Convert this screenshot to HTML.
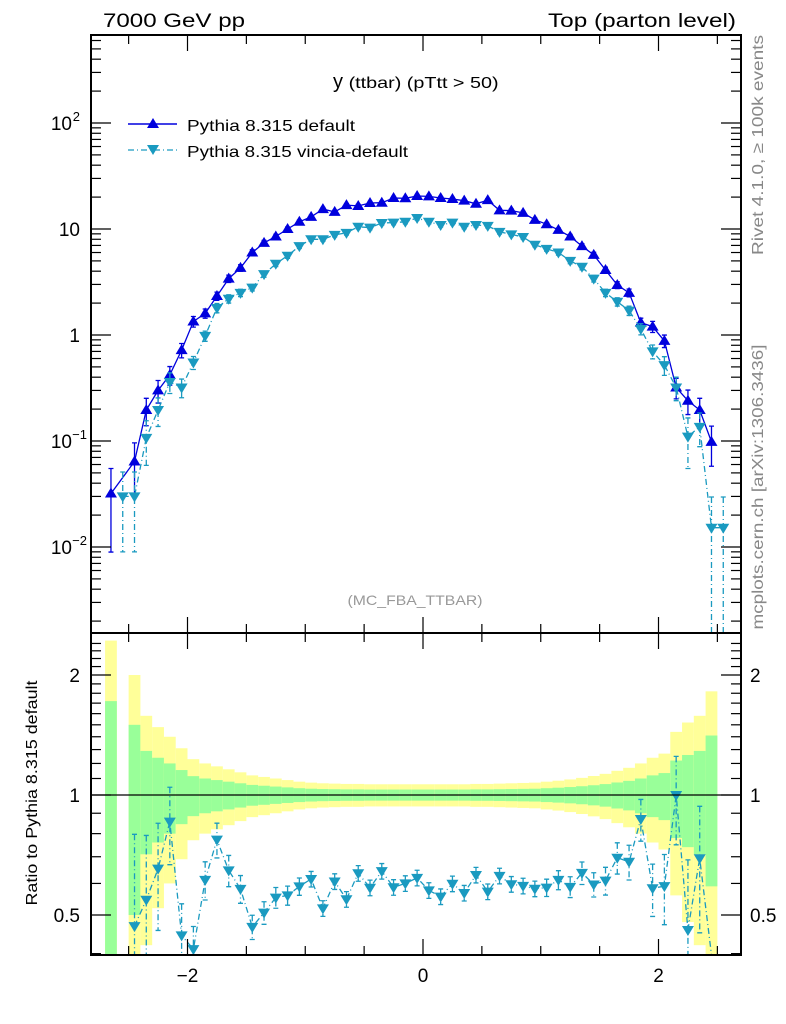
<!DOCTYPE html>
<html><head><meta charset="utf-8"><style>
html,body{margin:0;padding:0;background:#fff;overflow:hidden;width:786px;height:1024px;}
svg{display:block;position:absolute;left:0;top:0;font-family:"Liberation Sans",sans-serif;}
</style></head><body>
<svg id="chart" width="786" height="1024" viewBox="0 0 786 1024" xmlns="http://www.w3.org/2000/svg" overflow="hidden">
<defs>
<clipPath id="clipMain"><rect x="91" y="35" width="650" height="598"/></clipPath>
<clipPath id="clipRatio"><rect x="91" y="633" width="650" height="322"/></clipPath>
</defs>
<g id="bands" clip-path="url(#clipRatio)"></g>
<g id="main"></g>
<g id="ratio"></g>
<g id="axes"></g>
<text x="103" y="27" font-size="19" textLength="142" lengthAdjust="spacingAndGlyphs">7000 GeV pp</text>
<text x="736" y="27" font-size="19" text-anchor="end" textLength="188" lengthAdjust="spacingAndGlyphs">Top (parton level)</text>
<text x="333" y="88" font-size="20">y <tspan font-size="16" textLength="150" lengthAdjust="spacingAndGlyphs">(ttbar) (pTtt &gt; 50)</tspan></text>
<g>
<line x1="128" y1="124" x2="177" y2="124" stroke="#0000dd" stroke-width="1.5"/>
<path d="M153,118 L159,128 L147,128 Z" fill="#0000dd"/>
<text x="187" y="131" font-size="16" textLength="168" lengthAdjust="spacingAndGlyphs">Pythia 8.315 default</text>
<line x1="128" y1="150" x2="177" y2="150" stroke="#1a9ac0" stroke-width="1.3" stroke-dasharray="6,3,1,3"/>
<path d="M147,145 L159,145 L153,155 Z" fill="#1a9ac0"/>
<text x="187" y="157" font-size="16" textLength="221" lengthAdjust="spacingAndGlyphs">Pythia 8.315 vincia-default</text>
</g>
<text x="415" y="605" font-size="14" fill="#999" text-anchor="middle" textLength="135" lengthAdjust="spacingAndGlyphs">(MC_FBA_TTBAR)</text>
<text transform="translate(763,145) rotate(-90)" font-size="16" fill="#888" text-anchor="middle" textLength="220" lengthAdjust="spacingAndGlyphs">Rivet 4.1.0, ≥ 100k events</text>
<text transform="translate(763,487) rotate(-90)" font-size="16" fill="#888" text-anchor="middle" textLength="285" lengthAdjust="spacingAndGlyphs">mcplots.cern.ch [arXiv:1306.3436]</text>
<text transform="translate(37,793) rotate(-90)" font-size="16" text-anchor="middle" textLength="225" lengthAdjust="spacingAndGlyphs">Ratio to Pythia 8.315 default</text>
</svg>
<script>
const binCenters=[-2.65,-2.55,-2.45,-2.35,-2.25,-2.15,-2.05,-1.95,-1.85,-1.75,-1.65,-1.55,-1.45,-1.35,-1.25,-1.15,-1.05,-0.95,-0.85,-0.75,-0.65,-0.55,-0.45,-0.35,-0.25,-0.15,-0.05,0.05,0.15,0.25,0.35,0.45,0.55,0.65,0.75,0.85,0.95,1.05,1.15,1.25,1.35,1.45,1.55,1.65,1.75,1.85,1.95,2.05,2.15,2.25,2.35,2.45,2.55];
const defaultValues=[0.032,null,0.064,0.196,0.30,0.42,0.72,1.34,1.6,2.33,3.4,4.3,6.0,7.4,8.5,10,11.7,13,15.4,14.5,16.8,16.5,17.6,17.7,19.6,19.5,20.5,20.3,19.6,19.2,18.5,17.3,18.7,15,14.9,14.2,12.2,11.1,9.8,8.5,6.9,5.7,4.1,2.96,2.5,1.31,1.2,0.88,0.32,0.24,0.196,0.098,null];
const defaultRelErr=[0.72,null,0.5,0.29,0.24,0.2,0.155,0.115,0.1,0.09,0.08,0.07,0.06,0.055,0.05,0.045,0.04,0.037,0.035,0.034,0.033,0.033,0.032,0.032,0.032,0.032,0.032,0.032,0.032,0.032,0.032,0.033,0.033,0.034,0.035,0.036,0.037,0.04,0.043,0.047,0.052,0.058,0.065,0.075,0.085,0.1,0.12,0.135,0.22,0.26,0.29,0.41,null];
const vinciaValues=[null,0.030,0.030,0.107,0.196,0.36,0.32,0.55,0.98,1.8,2.2,2.5,2.8,3.75,4.7,5.6,6.9,8.0,8.0,8.8,9.2,10.5,10.3,11.4,11.5,11.7,12.7,11.7,10.9,11.5,10.5,10.9,10.7,9.4,8.9,8.4,7.1,6.5,6.0,5.0,4.4,3.4,2.5,2.06,1.7,1.14,0.70,0.52,0.32,0.11,0.136,0.0152,0.0152];
const vinciaRelErr=[null,0.7,0.7,0.45,0.3,0.22,0.2,0.14,0.11,0.1,0.09,0.08,0.07,0.065,0.06,0.055,0.05,0.045,0.045,0.045,0.045,0.045,0.045,0.045,0.045,0.045,0.045,0.045,0.045,0.045,0.045,0.045,0.045,0.045,0.045,0.045,0.045,0.05,0.055,0.06,0.065,0.07,0.08,0.09,0.1,0.12,0.15,0.2,0.25,0.5,0.35,0.95,0.95];
const xTickMajor=[-2,0,2];
const xTickLabels=["\u22122","0","2"];
const yLogLabels=[{v:100,t:"10",e:"2"},{v:10,t:"10",e:""},{v:1,t:"1",e:""},{v:0.1,t:"10",e:"\u22121"},{v:0.01,t:"10",e:"\u22122"}];
const ratioLabels=[2,1,0.5];
const binWidth=0.1;

const NS="http://www.w3.org/2000/svg";
const L=91,R=741,MT=35,MB=633,RB=955;
const X=x=>423+x*117.75;
const Y=v=>335-106*Math.log10(v);
const YR=r=>795-398.6*Math.log10(r);
function mk(parent,tag,attrs){const e=document.createElementNS(NS,tag);for(const k in attrs)e.setAttribute(k,attrs[k]);parent.appendChild(e);return e;}
const bands=document.getElementById('bands'),main=document.getElementById('main'),ratio=document.getElementById('ratio'),axes=document.getElementById('axes');
const mainClip=mk(main,'g',{'clip-path':'url(#clipMain)'});


const ratioClip=mk(ratio,'g',{'clip-path':'url(#clipRatio)'});



binCenters.forEach((c,i)=>{const e=defaultRelErr[i];if(e==null)return;
 const x0=X(c-binWidth/2),w=X(c+binWidth/2)-x0;
 const y2u=Math.max(MB,YR(1+2*e)),y2l=(1-2*e)>0.18?YR(1-2*e):RB;
 const yel=mk(bands,'rect',{x:x0,y:y2u,width:w,height:y2l-y2u,fill:'#ffff99'});
 
 
 const y1u=Math.max(MB,YR(1+e)),y1l=(1-e)>0.18?YR(1-e):RB;
 const gr=mk(bands,'rect',{x:x0,y:y1u,width:w,height:y1l-y1u,fill:'#99ff99'});
 
 
});
const refl=mk(ratio,'line',{x1:L,x2:R,y1:YR(1),y2:YR(1),stroke:'#000','stroke-width':1.2});



function series(g,vals,errs,color,dash,up,yf,name,ymin,ymax){
 const cl=y=>Math.max(ymin,Math.min(ymax,y));
 let pts=[];
 vals.forEach((v,i)=>{if(v==null)return;pts.push([X(binCenters[i]),yf(v),v,errs[i]]);});
 const d=pts.map((p,i)=>(i?'L':'M')+p[0].toFixed(1)+','+cl(p[1]).toFixed(1)).join(' ');
 const ln=mk(g,'path',{d:d,fill:'none',stroke:color,'stroke-width':1.3});
 if(dash)ln.setAttribute('stroke-dasharray',dash);
 
 
 pts.forEach(p=>{
  const hi=cl(yf(p[2]*(1+p[3]))),lo=cl((1-p[3])>0.001?yf(p[2]*(1-p[3])):ymax);
  const eb=mk(g,'path',{d:`M${p[0]},${hi}L${p[0]},${lo}M${p[0]-2.5},${hi}L${p[0]+2.5},${hi}M${p[0]-2.5},${lo}L${p[0]+2.5},${lo}`,stroke:color,'stroke-width':1.3,fill:'none'});
  if(dash)eb.setAttribute('stroke-dasharray',dash);
  
  
  const x=p[0],y=p[1];
  if(y>ymax-2||y<ymin+2)return;
  const m=mk(g,'path',{d:up?`M${x},${y-6}L${x+6},${y+4}L${x-6},${y+4}Z`:`M${x-6},${y-4}L${x+6},${y-4}L${x},${y+6}Z`,fill:color});
  
  
 });
}
series(mainClip,defaultValues,defaultRelErr,'#0000dd',null,true,Y,'default',MT,MB);
series(mainClip,vinciaValues,vinciaRelErr,'#1a9ac0','6,3,1,3',false,Y,'vincia',MT,MB);
const ratioVals=vinciaValues.map((v,i)=>(v!=null&&defaultValues[i]!=null)?v/defaultValues[i]:null);
series(ratioClip,ratioVals,vinciaRelErr,'#1a9ac0','6,3,1,3',false,YR,'vincia-ratio',MB,RB);

[[MT,MB],[MB,RB]].forEach(([t,b],k)=>{const f=mk(axes,'rect',{x:L,y:t,width:R-L,height:b-t,fill:'none',stroke:'#000','stroke-width':2});
 
 });
for(let x=-2.5;x<=2.51;x+=0.5){const px=X(x);const maj=xTickMajor.some(v=>Math.abs(v-x)<1e-6);const len=maj?16:9;
 [[MT,1],[MB,-1],[MB,1],[RB,-1]].forEach(([y,s])=>mk(axes,'line',{x1:px,x2:px,y1:y,y2:y+s*len,stroke:'#000','stroke-width':1.2}));}
xTickMajor.forEach((v,i)=>{const t=mk(axes,'text',{x:X(v),y:982,'font-size':19,'text-anchor':'middle'});t.textContent=xTickLabels[i];
 
 });
for(let d=-3;d<=2;d++){for(let m=1;m<=9;m++){const v=m*Math.pow(10,d);const y=Y(v);if(y<MT||y>MB)continue;const len=m==1?20:10;
 mk(axes,'line',{x1:L,x2:L+len,y1:y,y2:y,stroke:'#000','stroke-width':1.2});mk(axes,'line',{x1:R,x2:R-len,y1:y,y2:y,stroke:'#000','stroke-width':1.2});}}
yLogLabels.forEach(o=>{const t=mk(axes,'text',{x:o.e?72:80,y:Y(o.v)+7,'font-size':19,'text-anchor':'end'});t.textContent=o.t;
 
 
 if(o.e){const s=mk(axes,'text',{x:o.e.length>1?87:80,y:Y(o.v)-2,'font-size':13,'text-anchor':'end'});s.textContent=o.e;
 
 }});
for(let r=0.2;r<=2.45;r+=0.1){const y=YR(r);if(y<MB||y>RB)continue;const maj=[0.5,1,2].some(v=>Math.abs(v-r)<1e-6);const len=maj?20:10;
 mk(axes,'line',{x1:L,x2:L+len,y1:y,y2:y,stroke:'#000','stroke-width':1.2});mk(axes,'line',{x1:R,x2:R-len,y1:y,y2:y,stroke:'#000','stroke-width':1.2});}
ratioLabels.forEach(r=>{[[80,'end'],[750,'start']].forEach(([x,a])=>{const t=mk(axes,'text',{x:x,y:YR(r)+7,'font-size':19,'text-anchor':a});t.textContent=String(r);
 
 });});
</script>
</body></html>
